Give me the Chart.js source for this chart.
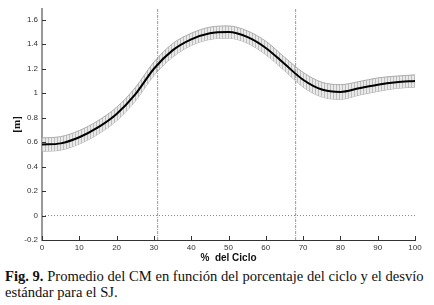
<!DOCTYPE html>
<html>
<head>
<meta charset="utf-8">
<title>Promedio del CM</title>
<script src="https://cdn.jsdelivr.net/npm/chart.js/dist/chart.umd.min.js"></script>
<style>
  body { margin: 0; background: #fff; width: 434px; height: 305px; overflow: hidden; }
  .box { position: relative; width: 434px; height: 265px; }
  .caption { font-family: "Liberation Serif", "Times New Roman", serif; font-size: 14.6px; line-height: 16px; color: #111; margin: 3px 0 0 5px; white-space: nowrap; }
</style>
</head>
<body>
<div class="box"><canvas id="myChart"></canvas></div>
<p class="caption"><b>Fig. 9.</b> Promedio del CM en función del porcentaje del ciclo y el desvío<br>estándar para el SJ.</p>

<script>
// % del ciclo
var cycle = [0, 5, 10, 15, 20, 25, 30, 35, 40, 45, 50, 55, 60, 65, 70, 75, 80, 85, 90, 95, 100];
// promedio CM [m]
var meanCM = [0.58, 0.59, 0.64, 0.72, 0.83, 0.99, 1.20, 1.35, 1.44, 1.49, 1.50, 1.46, 1.37, 1.24, 1.11, 1.03, 1.01, 1.04, 1.07, 1.09, 1.10];
// desvio estandar [m]
var sdCM = [0.055, 0.055, 0.055, 0.055, 0.055, 0.055, 0.055, 0.055, 0.05, 0.05, 0.05, 0.05, 0.055, 0.055, 0.06, 0.06, 0.06, 0.055, 0.055, 0.05, 0.05];
// lineas verticales de fase
var phaseLines = [31, 68];
var xTicks = [0, 10, 20, 30, 40, 50, 60, 70, 80, 90, 100];
var yTicks = [-0.2, 0, 0.2, 0.4, 0.6, 0.8, 1, 1.2, 1.4, 1.6];

var yMin = -0.2, yMax = 1.69;

function pts(vals) {
    return cycle.map(function (c, i) { return { x: c, y: vals[i] }; });
}
var upper = meanCM.map(function (m, i) { return m + sdCM[i]; });
var lower = meanCM.map(function (m, i) { return m - sdCM[i]; });

// vertical hatching for the std band
var pc = document.createElement('canvas');
pc.width = 3; pc.height = 1;
var pctx = pc.getContext('2d');
pctx.fillStyle = '#e9e9e9';
pctx.fillRect(0, 0, 3, 1);
pctx.fillStyle = '#bdbdbd';
pctx.fillRect(0, 0, 1, 1);
var hatch = pctx.createPattern(pc, 'repeat');

var datasets = [{
    data: pts(meanCM),
    borderColor: '#000',
    borderWidth: 2,
    fill: false,
    pointRadius: 0,
    order: 0,
    cubicInterpolationMode: 'monotone'
}, {
    data: pts(upper),
    borderColor: '#ababab',
    borderWidth: 1,
    backgroundColor: hatch,
    fill: '+1',
    pointRadius: 0,
    order: 3,
    cubicInterpolationMode: 'monotone'
}, {
    data: pts(lower),
    borderColor: '#ababab',
    borderWidth: 1,
    fill: false,
    pointRadius: 0,
    order: 3,
    cubicInterpolationMode: 'monotone'
}, {
    data: [{ x: 0, y: 0 }, { x: 100, y: 0 }],
    borderColor: '#888',
    borderWidth: 1,
    borderDash: [1, 2],
    pointRadius: 0,
    order: 2
}];
phaseLines.forEach(function (p) {
    datasets.push({
        data: [{ x: p, y: yMin }, { x: p, y: yMax }],
        borderColor: '#999',
        borderWidth: 1,
        borderDash: [3, 1, 1, 1],
        pointRadius: 0,
        order: 2
    });
});

// ticks drawn inward, matlab style
var innerTicks = {
    id: 'innerTicks',
    afterDatasetsDraw: function (chart) {
        var ctx = chart.ctx, xs = chart.scales.x, ys = chart.scales.y;
        ctx.save();
        ctx.strokeStyle = '#333';
        ctx.lineWidth = 1;
        ctx.beginPath();
        xTicks.forEach(function (v) {
            var px = Math.round(xs.getPixelForValue(v)) + 0.5;
            ctx.moveTo(px, ys.bottom);
            ctx.lineTo(px, ys.bottom - 4);
        });
        yTicks.forEach(function (v) {
            var py = Math.round(ys.getPixelForValue(v)) + 0.5;
            ctx.moveTo(xs.left, py);
            ctx.lineTo(xs.left + 4, py);
        });
        ctx.stroke();
        ctx.restore();
    }
};

var ctx = document.getElementById('myChart').getContext('2d');
new Chart(ctx, {
    type: 'line',
    data: { datasets: datasets },
    plugins: [innerTicks],
    options: {
        responsive: true,
        maintainAspectRatio: false,
        animation: false,
        layout: { padding: { left: 0, top: 4, right: 19, bottom: 0 } },
        plugins: { legend: { display: false }, tooltip: { enabled: false } },
        scales: {
            x: {
                type: 'linear',
                min: 0,
                max: 100,
                afterBuildTicks: function (s) { s.ticks = xTicks.map(function (v) { return { value: v }; }); },
                afterFit: function (s) { s.height = 25; },
                grid: { display: false, drawTicks: false },
                border: { color: '#333', width: 1 },
                ticks: { color: '#333', font: { family: 'Arial, "Liberation Sans", sans-serif', size: 8 }, padding: 3, maxRotation: 0 },
                title: { display: true, text: '%  del Ciclo', color: '#111', padding: { top: 0, bottom: 1 }, font: { family: 'Arial, "Liberation Sans", sans-serif', size: 10, weight: 'bold' } }
            },
            y: {
                type: 'linear',
                min: yMin,
                max: yMax,
                afterBuildTicks: function (s) { s.ticks = yTicks.map(function (v) { return { value: v }; }); },
                afterFit: function (s) { s.width = 42; },
                grid: { display: false, drawTicks: false },
                border: { color: '#999', width: 2 },
                ticks: {
                    color: '#333', font: { family: 'Arial, "Liberation Sans", sans-serif', size: 8 }, padding: 4,
                    callback: function (v) { return String(Math.round(v * 10) / 10); }
                },
                title: { display: true, text: '[m]', color: '#111', padding: { top: 11, bottom: 0 }, font: { family: '"Liberation Serif", serif', size: 11, weight: 'bold' } }
            }
        }
    }
});
</script>
</body>
</html>
